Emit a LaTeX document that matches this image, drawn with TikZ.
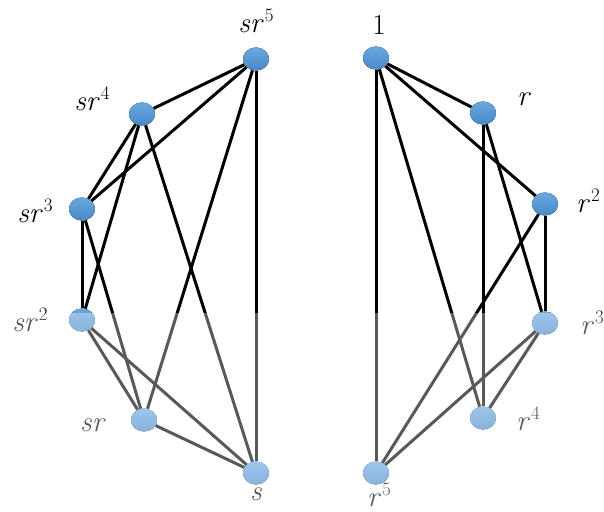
\documentclass[tikz,border=0pt]{standalone}
\usepackage{fontspec}
\usetikzlibrary{shapes.geometric}
\definecolor{nodetop}{HTML}{6AA8E0}
\definecolor{nodebot}{HTML}{4A88C8}
\newcommand\lblsup[2]{\textit{#1}\kern1pt\raisebox{0.38em}{\fontsize{19}{19}\selectfont #2}}
\tikzset{
  vert/.style={ellipse, minimum width=26pt, minimum height=23pt, inner sep=0pt,
    top color=nodetop, bottom color=nodebot, draw=none},
  lbl/.style={font=\fontsize{29}{33}\selectfont, inner sep=0pt},
  edge/.style={line width=3pt, black}
}
\begin{document}
\begin{tikzpicture}[x=1pt,y=-1pt]
\useasboundingbox (0,0) rectangle (604,511);
% left component
\node[vert] (sr5) at (256,59) {};
\node[vert] (sr4) at (142,114) {};
\node[vert] (sr3) at (82,209) {};
\node[vert] (sr2) at (82,320) {};
\node[vert] (sr1) at (144,420) {};
\node[vert] (s)   at (256,473) {};
% right component
\node[vert] (e)  at (376,58) {};
\node[vert] (r1) at (483,113) {};
\node[vert] (r2) at (545,204) {};
\node[vert] (r3) at (545,323) {};
\node[vert] (r4) at (483,418) {};
\node[vert] (r5) at (376,473) {};
% edges
\draw[edge] (sr5) -- (sr4);
\draw[edge] (sr5) -- (sr3);
\draw[edge] (sr5) -- (sr1);
\draw[edge] (sr5) -- (s);
\draw[edge] (sr4) -- (sr3);
\draw[edge] (sr4) -- (sr2);
\draw[edge] (sr4) -- (s);
\draw[edge] (sr3) -- (sr2);
\draw[edge] (sr3) -- (sr1);
\draw[edge] (sr2) -- (sr1);
\draw[edge] (sr2) -- (s);
\draw[edge] (sr1) -- (s);
\draw[edge] (e) -- (r1);
\draw[edge] (e) -- (r2);
\draw[edge] (e) -- (r4);
\draw[edge] (e) -- (r5);
\draw[edge] (r1) -- (r4);
\draw[edge] (r1) -- (r3);
\draw[edge] (r2) -- (r3);
\draw[edge] (r2) -- (r5);
\draw[edge] (r3) -- (r4);
\draw[edge] (r3) -- (r5);
% redraw nodes on top of connector ends
\foreach \p in {sr5,sr4,sr3,sr2,sr1,s,e,r1,r2,r3,r4,r5}{
  \fill[top color=nodetop, bottom color=nodebot] (\p.center) ellipse (13pt and 11.5pt);
}
% labels
\node[lbl] (lsr5) at (256,21) {\lblsup{sr}{5}};
\node[lbl] (lsr4) at (92,99) {\lblsup{sr}{4}};
\node[lbl] (lsr3) at (35,211) {\lblsup{sr}{3}};
\node[lbl] (lsr2) at (30,320) {\lblsup{sr}{2}};
\node[lbl] (lsr1) at (93,425) {\textit{sr}};
\node[lbl] (ls)   at (256,494) {\textit{s}};
\node[lbl] (le)   at (379,25) {1};
\node[lbl] (lr1)  at (524,99) {\textit{r}};
\node[lbl] (lr2)  at (588,201) {\lblsup{r}{2}};
\node[lbl] (lr3)  at (592,323) {\lblsup{r}{3}};
\node[lbl] (lr4)  at (528,419) {\lblsup{r}{4}};
\node[lbl] (lr5)  at (379,495) {\lblsup{r}{5}};
% faded lower part
\fill[white, fill opacity=0.35] (0,313) rectangle (604,511);
\end{tikzpicture}
\end{document}
